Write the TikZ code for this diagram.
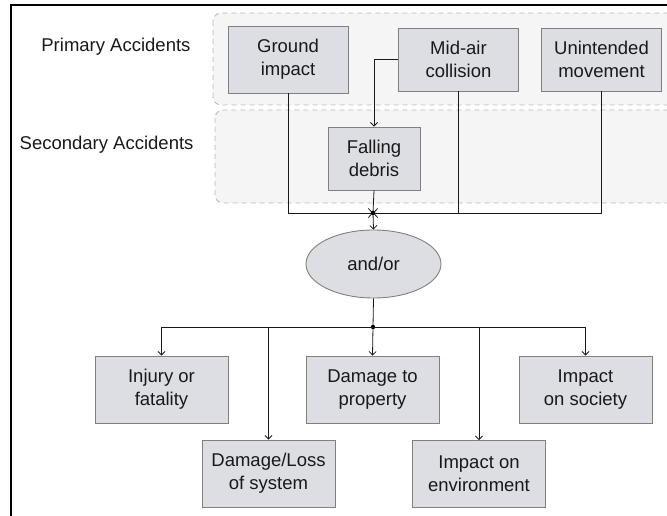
\documentclass[tikz,border=0pt]{standalone}
\usepackage{fontspec}
\setmainfont{Liberation Sans}
\usetikzlibrary{shapes.geometric,arrows.meta}
\definecolor{boxfill}{RGB}{221,222,228}
\definecolor{boxline}{RGB}{128,128,128}
\definecolor{zonefill}{RGB}{245,245,245}
\definecolor{zoneline}{RGB}{185,185,185}
\newcommand{\lbl}{\fontsize{18.5}{23}\selectfont}

\begin{document}
\begin{tikzpicture}[x=1pt,y=-1pt,
    box/.style={draw=boxline,fill=boxfill,line width=0.9pt,align=center,font=\lbl,text=black!90,inner sep=0pt},
    zone/.style={draw=zoneline,fill=zonefill,dash pattern=on 5pt off 4pt,rounded corners=8pt,line width=0.9pt},
    link/.style={line width=0.8pt,black!90},
    >={Straight Barb[length=3.5pt,width=7pt]}]
    \clip (0,0) rectangle (667,516);
    % accident zones
    \draw[zone] (213,13) rectangle (700,105);
    \draw[zone] (215,110) rectangle (700,203);
    \draw[line width=2pt] (11,530) -- (11,5) -- (680,5);
    \node[anchor=east,font=\lbl,text=black!90] (prim) at (194,47)  {Primary Accidents};
    \node[anchor=east,font=\lbl,text=black!90] (sec)  at (197,145) {Secondary Accidents};
    % primary and secondary accidents
    \node[box,minimum width=120,minimum height=67] (ground)  at (288,59.5)   {Ground\\impact};
    \node[box,minimum width=120,minimum height=63] (midair)  at (458.5,59.5) {Mid-air\\collision};
    \node[box,minimum width=120,minimum height=63] (unint)   at (601.5,59.5) {Unintended\\movement};
    \node[box,minimum width=92,minimum height=63]  (falling) at (374,158.5)  {Falling\\debris};
    \node[box,ellipse,minimum width=135,minimum height=68] (andor) at (373.5,264) {and/or};
    % consequences
    \node[box,minimum width=133,minimum height=67] (injury)  at (161.5,389.5) {Injury or\\fatality};
    \node[box,minimum width=133,minimum height=67] (dmgprop) at (372.5,389.5) {Damage to\\property};
    \node[box,minimum width=133,minimum height=67] (society) at (585.5,389.5) {Impact\\on society};
    \node[box,minimum width=133,minimum height=67] (dmgloss) at (268.5,473.5) {Damage/Loss\\of system};
    \node[box,minimum width=133,minimum height=67] (env)     at (479,474)     {Impact on\\environment};
    \coordinate (join) at (373,213);
    \coordinate (bus)  at (373,327);
    % connectors
    \draw[link,->] (midair.west) -| (falling.north);
    \draw[link,-{Straight Barb[length=4pt,width=9pt]}] (ground.south) |- (join);
    \draw[link,-{Straight Barb[length=4pt,width=9pt]}] (unint.south) |- (join);
    \draw[link] (midair.south) -- (midair.south |- join);
    \draw[link] (falling.south) -- (join);
    \fill (join) circle (2.3);
    \draw[link,->] (join) -- (andor.north);
    \draw[link] (andor.south) -- (bus);
    \fill (bus) circle (2.2);
    \draw[link,->] (bus) -| (injury.north);
    \draw[link,->] (bus) -| (dmgloss.north);
    \draw[link,->] (bus) -- (dmgprop.north);
    \draw[link,->] (bus) -| (env.north);
    \draw[link,->] (bus) -| (society.north);
\end{tikzpicture}
\end{document}
